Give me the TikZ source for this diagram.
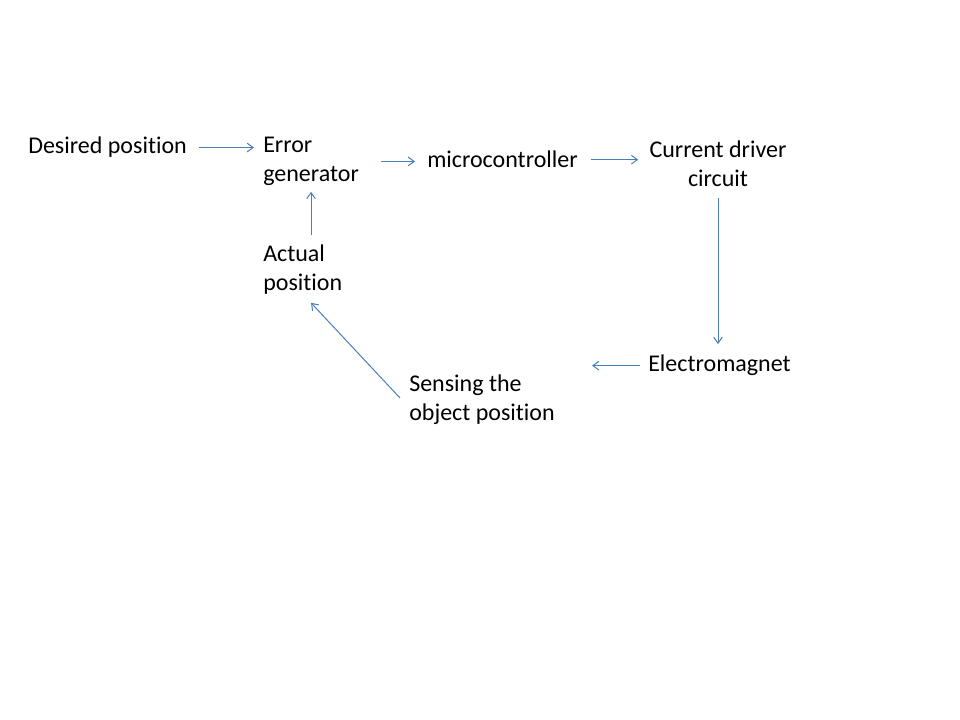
\documentclass[tikz,border=0pt]{standalone}
\usepackage{fontspec}
\setmainfont[Ligatures=NoCommon]{Carlito}
\usetikzlibrary{arrows.meta,calc}

\definecolor{linkblue}{HTML}{4A7EBB}

\tikzset{
  label/.style={inner sep=0pt, align=left, font=\fontsize{18}{21.6}\selectfont},
  flow/.style={draw=linkblue, line width=0.75pt, -{Straight Barb[length=4.5pt,width=6.5pt]}}
}

\begin{document}
\begin{tikzpicture}[x=0.75pt,y=-0.75pt]
		\useasboundingbox (0,0) rectangle (960,720);
		\node[label,anchor=north west] (des) at (28,137) {Desired position};
		\node[label,anchor=north west] (err) at (263,137) {Error\\generator};
		\node[label,anchor=north west] (mcu) at (427,151) {microcontroller};
		\node[label,anchor=north,align=center] (drv) at (718,141) {Current driver\\circuit};
		\node[label,anchor=north west] (act) at (263,245) {Actual\\position};
		\node[label,anchor=north west] (em) at (648,355) {Electromagnet};
		\node[label,anchor=north west] (sense) at (409,375) {Sensing the\\object position};
		
		\draw[flow] ($(des.east)+(12,0)$) -- ($(err.west |- des.east)+(-9,0)$);
		\draw[flow] ($(err.east)+(22,0)$) -- ($(err.east -| mcu.west)+(-12,0)$);
		\draw[flow] ($(mcu.east)+(13,0)$) -- ($(mcu.east -| drv.west)+(-11,0)$);
		\draw[flow] ($(drv.south)+(0,11)$) -- ($(drv.south |- em.north)+(0,-11)$);
		\draw[flow] ($(em.west)+(-8,0)$) -- ($(em.west -| sense.east)+(37,0)$);
		\draw[flow] ($(sense.north west)+(-9,23)$) -- ($(act.south -| err.south)+(0,8)$);
		\draw[flow] ($(act.north -| err.south)+(0,-10)$) -- ($(err.south)+(0,6)$);
		\end{tikzpicture}
\end{document}
